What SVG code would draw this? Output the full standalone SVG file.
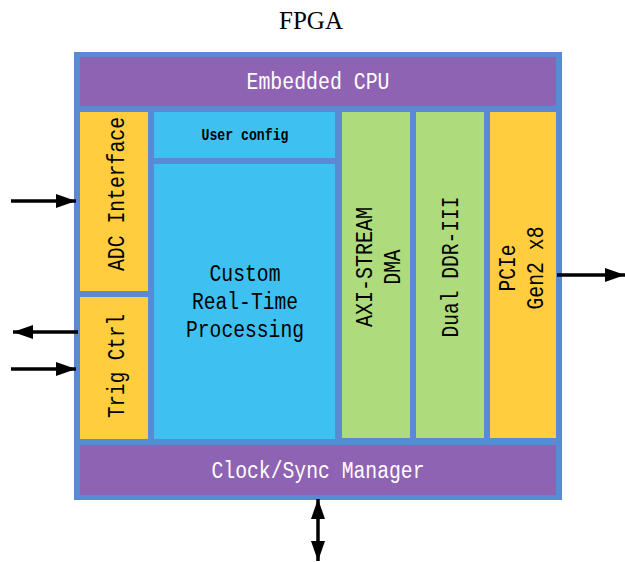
<svg xmlns="http://www.w3.org/2000/svg" width="625" height="562" viewBox="0 0 625 562">
<style>
.lbl{font-family:"Liberation Mono","DejaVu Sans Mono",monospace;font-size:23px;text-anchor:middle;lengthAdjust:spacingAndGlyphs}
.w{fill:#ffffff}
.k{fill:#000000}
.pur{fill:#8F63B3}
.yel{fill:#FFCD3E}
.cya{fill:#3EC1F0}
.grn{fill:#AEDB7C}
.conn{stroke:#000;stroke-width:3.5;fill:none}
</style>
<defs>
<marker id="ah" viewBox="0 0 20 14" refX="20" refY="7" markerWidth="20" markerHeight="14" markerUnits="userSpaceOnUse" orient="auto-start-reverse">
<path d="M0,0 L20,7 L0,14 z" fill="#000"/>
</marker>
</defs>
<text x="311" y="29" font-family="Liberation Serif,serif" font-size="25" text-anchor="middle" fill="#000">FPGA</text>
<g id="fpga">
<rect x="74" y="52" width="488" height="448" fill="#5A8AD3"/>
</g>
<g id="cpu">
<rect class="pur" x="80" y="57" width="476" height="49"/>
<text class="lbl w" x="318" y="89" textLength="143" lengthAdjust="spacingAndGlyphs">Embedded CPU</text>
</g>
<g id="adc">
<rect class="yel" x="80" y="112" width="68" height="179"/>
<text class="lbl k" transform="translate(124,194) rotate(-90)" textLength="154" lengthAdjust="spacingAndGlyphs">ADC Interface</text>
</g>
<g id="trig">
<rect class="yel" x="80" y="297" width="68" height="142"/>
<text class="lbl k" transform="translate(124,366) rotate(-90)" textLength="104" lengthAdjust="spacingAndGlyphs">Trig Ctrl</text>
</g>
<g id="userconfig">
<rect class="cya" x="154" y="112" width="181" height="46"/>
<text x="245" y="140" font-family="Liberation Mono,monospace" font-size="16" font-weight="bold" text-anchor="middle" fill="#000" textLength="87" lengthAdjust="spacingAndGlyphs">User config</text>
</g>
<g id="processing">
<rect class="cya" x="154" y="164" width="181" height="275"/>
<text class="lbl k" x="245" y="281" textLength="71" lengthAdjust="spacingAndGlyphs">Custom</text>
<text class="lbl k" x="245" y="309" textLength="106" lengthAdjust="spacingAndGlyphs">Real-Time</text>
<text class="lbl k" x="245" y="337" textLength="118" lengthAdjust="spacingAndGlyphs">Processing</text>
</g>
<g id="dma">
<rect class="grn" x="342" y="112" width="68" height="326"/>
<text class="lbl k" transform="translate(372,267) rotate(-90)" textLength="120" lengthAdjust="spacingAndGlyphs">AXI-STREAM</text>
<text class="lbl k" transform="translate(400,267) rotate(-90)" textLength="35" lengthAdjust="spacingAndGlyphs">DMA</text>
</g>
<g id="ddr">
<rect class="grn" x="416" y="112" width="68" height="326"/>
<text class="lbl k" transform="translate(458,267) rotate(-90)" textLength="141" lengthAdjust="spacingAndGlyphs">Dual DDR-III</text>
</g>
<g id="pcie">
<rect class="yel" x="490" y="112" width="66" height="326"/>
<text class="lbl k" transform="translate(515,268) rotate(-90)" textLength="47" lengthAdjust="spacingAndGlyphs">PCIe</text>
<text class="lbl k" transform="translate(543,268) rotate(-90)" textLength="83" lengthAdjust="spacingAndGlyphs">Gen2 x8</text>
</g>
<g id="clock">
<rect class="pur" x="80" y="445" width="476" height="50"/>
<text class="lbl w" x="318" y="478" textLength="213" lengthAdjust="spacingAndGlyphs">Clock/Sync Manager</text>
</g>
<g id="connectors">
<line class="conn" x1="11" y1="201" x2="76" y2="201" marker-end="url(#ah)"/>
<line class="conn" x1="78" y1="332" x2="13" y2="332" marker-end="url(#ah)"/>
<line class="conn" x1="11" y1="369" x2="76" y2="369" marker-end="url(#ah)"/>
<line class="conn" x1="557" y1="275" x2="625" y2="275" marker-end="url(#ah)"/>
<line class="conn" x1="318" y1="499" x2="318" y2="561" marker-start="url(#ah)" marker-end="url(#ah)"/>
</g>
</svg>
